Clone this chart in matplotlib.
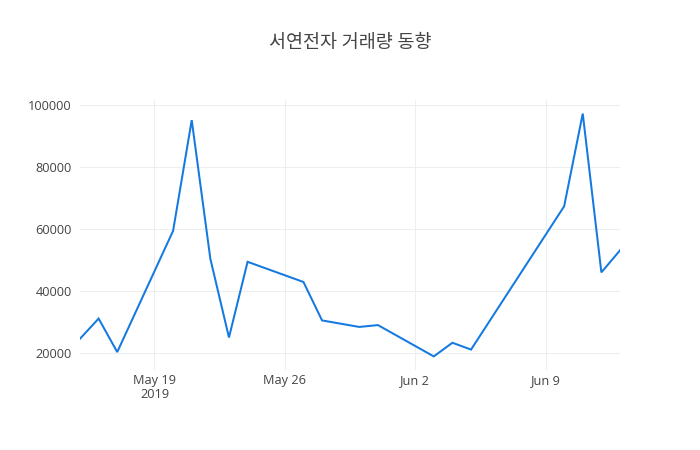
import matplotlib
matplotlib.use("Agg")
import matplotlib.pyplot as plt
import numpy as np
import pandas as pd

# trading days (weekends / holidays missing)
dates = [
    "2019-05-15", "2019-05-16", "2019-05-17",
    "2019-05-20", "2019-05-21", "2019-05-22", "2019-05-23", "2019-05-24",
    "2019-05-27", "2019-05-28", "2019-05-30", "2019-05-31",
    "2019-06-03", "2019-06-04", "2019-06-05",
    "2019-06-10", "2019-06-11", "2019-06-12", "2019-06-13",
]
volume = [
    24700, 31200, 20400,
    59500, 95200, 50500, 25100, 49500,
    43000, 30600, 28500, 29100,
    19000, 23400, 21200,
    67400, 97300, 46100, 53200,
]
tick_dates = ["2019-05-19", "2019-05-26", "2019-06-02", "2019-06-09"]
tick_labels = ["May 19\n2019", "May 26", "Jun 2", "Jun 9"]
y_ticks = [20000, 40000, 60000, 80000, 100000]

plt.rcParams["font.family"] = ["Open Sans", "Noto Sans CJK KR", "DejaVu Sans"]

x = pd.to_datetime(dates)

fig = plt.figure(figsize=(7, 4.5), dpi=100)
ax = fig.add_axes([80 / 700, 80 / 450, 540 / 700, 270 / 450])

ax.plot(x, volume, color="#1479e0", linewidth=1.45, solid_joinstyle="miter")

ax.set_xlim(x[0], x[-1])
pad = (max(volume) - min(volume)) * 0.056
ax.set_ylim(min(volume) - pad, max(volume) + pad)

ax.set_xticks(pd.to_datetime(tick_dates))
ax.set_xticklabels(tick_labels, linespacing=1.05)
ax.set_yticks(y_ticks)
ax.set_yticklabels([str(v) for v in y_ticks])

ax.grid(True, color="#eeeeee", linewidth=0.8)
ax.set_axisbelow(True)
for s in ax.spines.values():
    s.set_visible(False)
ax.tick_params(length=0, labelsize=9.2, colors="#444444")
ax.tick_params(axis="x", pad=3)
ax.tick_params(axis="y", pad=6)

fig.text(0.5, 1 - 43 / 450, "서연전자 거래량 동향", ha="center", va="center",
         fontsize=13.3, color="#444444")

fig.savefig("out.png", dpi=100)
